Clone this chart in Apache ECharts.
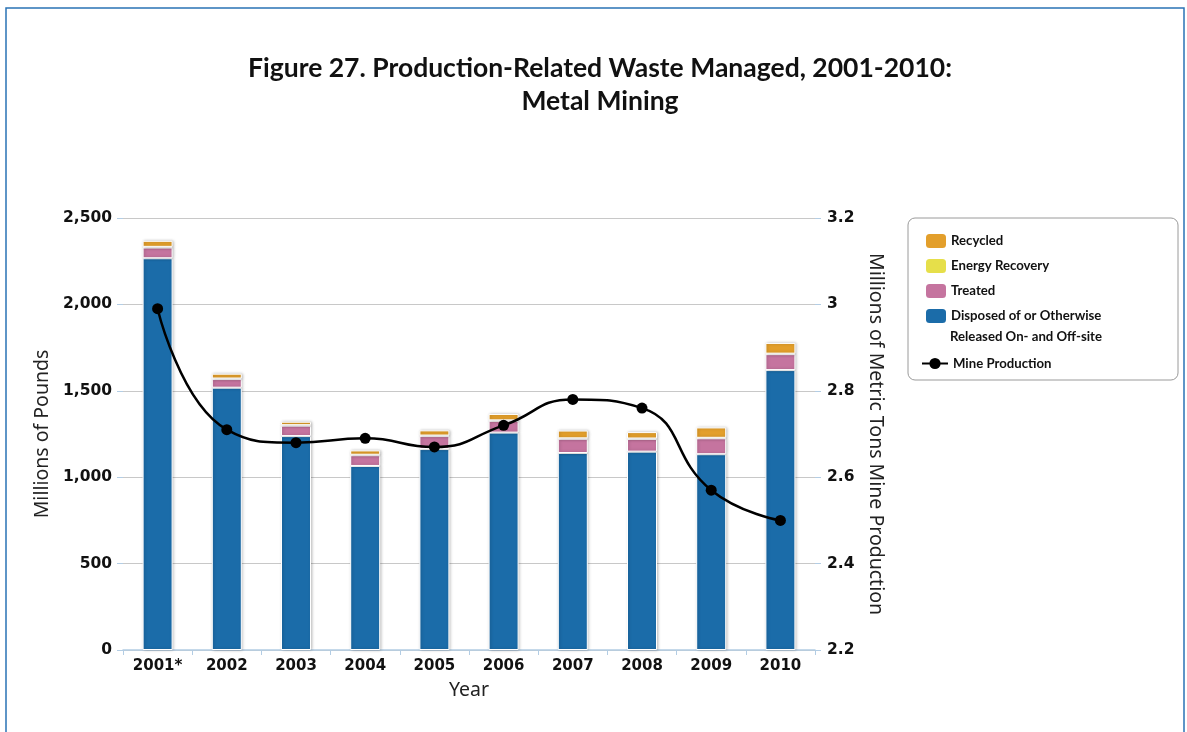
<!DOCTYPE html>
<html>
<head>
<meta charset="utf-8">
<script src="https://cdn.jsdelivr.net/npm/echarts@6/dist/echarts.min.js"></script>
<style>
  html, body { margin: 0; padding: 0; background: #fff; }
  #chart { width: 1187px; height: 732px; }
</style>
</head>
<body>
<div id="chart"></div>
<script>
// 数据
var years = ['2001*', '2002', '2003', '2004', '2005', '2006', '2007', '2008', '2009', '2010']
var disposed = [2267, 1518, 1238, 1065, 1163, 1258, 1140, 1148, 1133, 1620]
var treated = [62, 50, 60, 62, 75, 68, 82, 73, 92, 92]
var energyRecovery = [4, 3, 3, 3, 3, 3, 3, 3, 3, 3]
var recycled = [35, 28, 20, 25, 30, 37, 45, 37, 60, 62]
var mineProduction = [2.99, 2.71, 2.68, 2.69, 2.67, 2.72, 2.78, 2.76, 2.57, 2.50]

var axisBlue = '#b3cde4'
var barStyle = function (color) {
  return {
    color: color,
    borderColor: '#fff',
    borderWidth: 1,
    shadowColor: 'rgba(0,0,0,0.25)',
    shadowBlur: 3,
    shadowOffsetX: 1,
    shadowOffsetY: 0
  }
}
var labelFont = {fontFamily: 'DejaVu Sans', fontWeight: 'bold', fontSize: 15.5, color: '#111'}
var nameFont = {fontFamily: 'Noto Sans', fontSize: 19.5, color: '#222'}
var legendFont = {fontFamily: 'Lato', fontWeight: 'bold', fontSize: 13.2, color: '#111'}

var myChart = echarts.init(document.getElementById('chart'))
var option = {
  backgroundColor: '#fff',
  animation: false,
  title: {
    text: 'Figure 27. Production-Related Waste Managed, 2001-2010:\nMetal Mining',
    left: 595,
    textAlign: 'center',
    top: 47,
    textStyle: {fontFamily: 'Lato', fontSize: 26.5, fontWeight: 'bold', color: '#111', lineHeight: 33}
  },
  graphic: [
    {
      type: 'rect',
      shape: {x: 6, y: 8, width: 1178, height: 760},
      style: {fill: 'none', stroke: '#2a73b5', lineWidth: 1.5},
      silent: true
    },
    {
      type: 'rect',
      shape: {x: 908, y: 218, width: 270, height: 162, r: 7},
      style: {fill: '#fff', stroke: '#9a9a9a', lineWidth: 1},
      z: 0
    },
    {
      type: 'text',
      left: 950,
      top: 330,
      z: 10,
      style: {text: 'Released On- and Off-site', font: 'bold 13.2px Lato', fill: '#111'}
    }
  ],
  legend: [
    {
      orient: 'vertical',
      left: 921,
      top: 229,
      itemWidth: 20,
      itemHeight: 14,
      itemGap: 11,
      icon: 'roundRect',
      itemStyle: {borderWidth: 0, shadowBlur: 0, shadowOffsetX: 0},
      textStyle: legendFont,
      data: ['Recycled', 'Energy Recovery', 'Treated', 'Disposed of or Otherwise']
    },
    {
      orient: 'vertical',
      left: 916,
      top: 352,
      itemWidth: 26,
      itemHeight: 14,
      textStyle: legendFont,
      data: ['Mine Production']
    }
  ],
  grid: {left: 123, right: 372, top: 218, bottom: 82},
  xAxis: {
    type: 'category',
    data: years,
    name: 'Year',
    nameLocation: 'middle',
    nameGap: 30,
    nameTextStyle: nameFont,
    axisLine: {lineStyle: {color: axisBlue, width: 1.5}},
    axisTick: {show: true, length: 5, lineStyle: {color: axisBlue}},
    axisLabel: Object.assign({margin: 9}, labelFont, {fontSize: 15})
  },
  yAxis: [
    {
      type: 'value',
      min: 0,
      max: 2500,
      interval: 500,
      name: 'Millions of Pounds',
      nameLocation: 'middle',
      nameRotate: 90,
      nameGap: 66,
      nameTextStyle: nameFont,
      axisLine: {show: false},
      axisTick: {show: true, length: 6, lineStyle: {color: axisBlue}},
      splitLine: {lineStyle: {color: '#c8c8c8'}},
      axisLabel: Object.assign({
        margin: 11,
        formatter: function (v) { return v.toLocaleString('en-US') }
      }, labelFont)
    },
    {
      type: 'value',
      min: 2.2,
      max: 3.2,
      interval: 0.2,
      position: 'right',
      name: 'Millions of Metric Tons Mine Production',
      nameLocation: 'middle',
      nameRotate: -90,
      nameGap: 42,
      nameTextStyle: nameFont,
      axisLine: {show: false},
      axisTick: {show: true, length: 6, lineStyle: {color: axisBlue}},
      splitLine: {show: false},
      axisLabel: Object.assign({
        margin: 12,
        formatter: function (v) { return String(Math.round(v * 10) / 10) }
      }, labelFont)
    }
  ],
  series: [
    {
      name: 'Disposed of or Otherwise',
      type: 'bar',
      stack: 'waste',
      barWidth: 30,
      itemStyle: barStyle('#1b6ca9'),
      data: disposed
    },
    {
      name: 'Treated',
      type: 'bar',
      stack: 'waste',
      itemStyle: barStyle('#c5749f'),
      data: treated
    },
    {
      name: 'Energy Recovery',
      type: 'bar',
      stack: 'waste',
      itemStyle: barStyle('#e6df4a'),
      data: energyRecovery
    },
    {
      name: 'Recycled',
      type: 'bar',
      stack: 'waste',
      itemStyle: barStyle('#e39f2b'),
      data: recycled
    },
    {
      name: 'Mine Production',
      type: 'line',
      yAxisIndex: 1,
      smooth: 0.5,
      symbol: 'circle',
      symbolSize: 11,
      z: 5,
      lineStyle: {color: '#000', width: 2.5},
      itemStyle: {color: '#000'},
      data: mineProduction
    }
  ]
}
myChart.setOption(option)
</script>
</body>
</html>
